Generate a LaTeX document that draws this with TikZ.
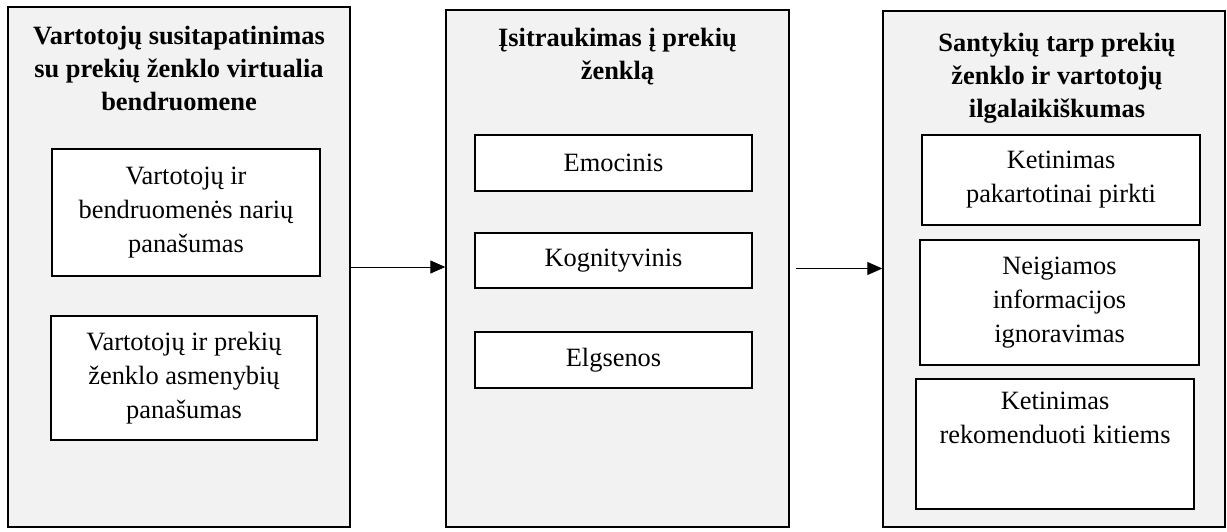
\documentclass[tikz,border=0pt]{standalone}
\usepackage{fontspec}
\setmainfont{Liberation Serif}
\usetikzlibrary{arrows.meta,positioning}
\definecolor{panelgray}{HTML}{F2F2F2}

\begin{document}
\begin{tikzpicture}[x=1pt,y=-1pt,
    panel/.style={draw, line width=1.4pt, fill=panelgray, inner sep=0pt},
    ttl/.style={font=\fontsize{26.4}{33}\selectfont\bfseries, align=center, inner sep=0pt},
    item/.style={draw, line width=1.4pt, fill=white, align=center, inner sep=0pt,
        font=\fontsize{26.4}{34}\selectfont},
    flow/.style={-{Triangle[length=15pt,width=13pt]}, line width=0.9pt}]
    \useasboundingbox (0,0) rectangle (1227,531);
    % three groups
    \node[panel, minimum width=342pt, minimum height=520pt] (ident) at (179,267) {};
    \node[panel, minimum width=343pt, minimum height=517pt] (eng) at (617.5,268.5) {};
    \node[panel, minimum width=342pt, minimum height=516pt] (dur) at (1054,269) {};
    \node[ttl, anchor=north] (identT) at (179,26) {Vartotojų susitapatinimas\\su prekių ženklo virtualia\\bendruomene};
    \node[ttl, anchor=north] (engT) at (617.5,28) {Įsitraukimas į prekių\\ženklą};
    \node[ttl, anchor=north] (durT) at (1057,33) {Santykių tarp prekių\\ženklo ir vartotojų\\ilgalaikiškumas};
    % items
    \node[item, minimum width=268pt, minimum height=127pt] (simA) at (186,212.5) {Vartotojų ir\\bendruomenės narių\\panašumas};
    \node[item, minimum width=266pt, minimum height=124pt] (simB) at (184,378) {Vartotojų ir prekių\\ženklo asmenybių\\panašumas};
    \node[item, minimum width=277pt, minimum height=56pt] (emo) at (613.5,163) {Emocinis};
    \node[item, minimum width=277pt, minimum height=55pt] (cog) at (613.5,260.5) {Kognityvinis};
    \node[item, minimum width=277pt, minimum height=56pt] (beh) at (613.5,360) {Elgsenos};
    \node[item, minimum width=278pt, minimum height=90pt] (rep) at (1061,180) {Ketinimas\\pakartotinai pirkti};
    \node[item, minimum width=279pt, minimum height=125pt] (neg) at (1059.5,302.5) {Neigiamos\\informacijos\\ignoravimas};
    \node[item, minimum width=278pt, minimum height=130pt, text depth=52pt] (rec) at (1055,444) {Ketinimas\\rekomenduoti kitiems};
    % links
    \draw[flow] (ident.east) -- (eng.west |- ident.east);
    \draw[flow, shorten <=6pt] (eng.east) -- (dur.west |- eng.east);
\end{tikzpicture}
\end{document}
